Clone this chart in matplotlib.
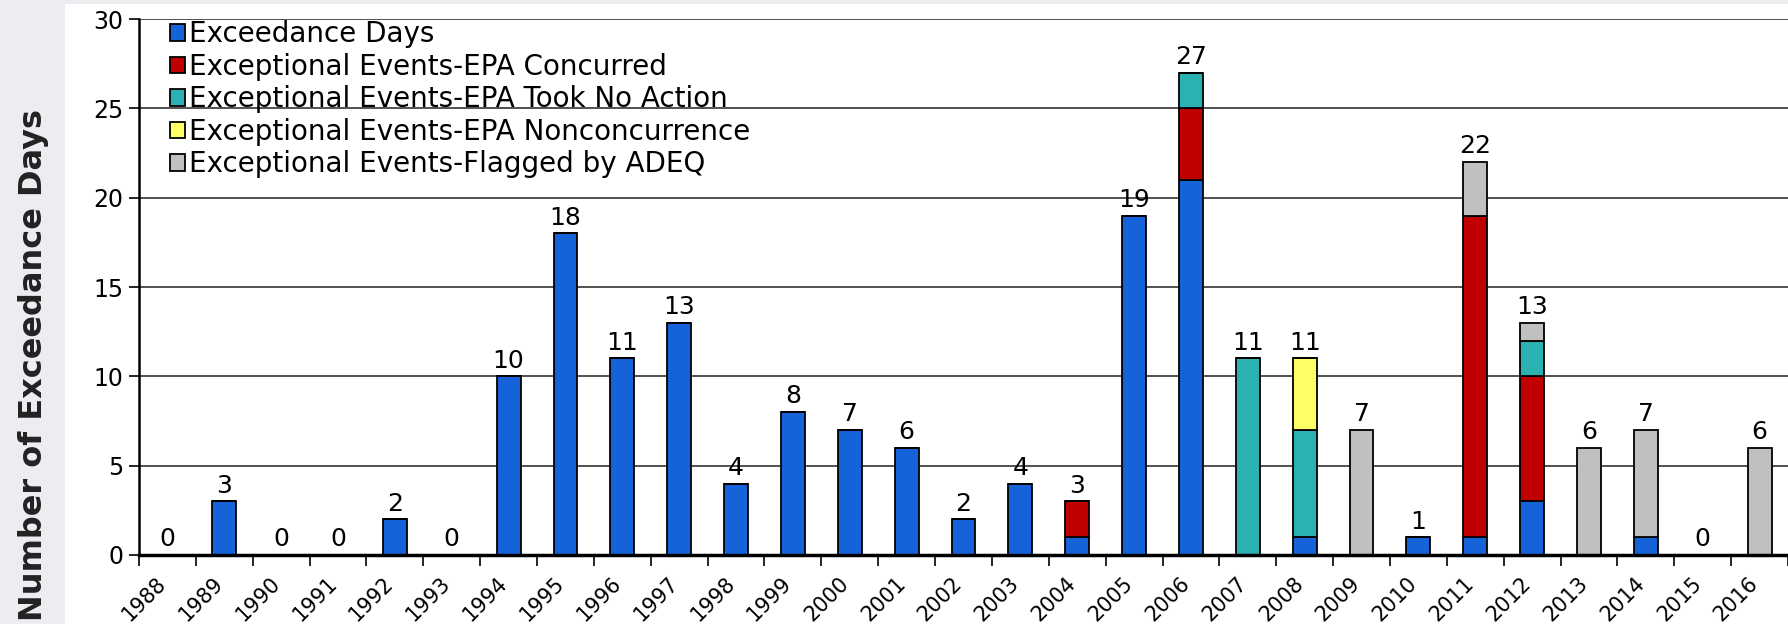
import numpy as np
import matplotlib
matplotlib.use("Agg")
from matplotlib import pyplot as plt
from matplotlib.patches import Rectangle

# data
years = list(range(1988, 2017))
exceedance = [0, 3, 0, 0, 2, 0, 10, 18, 11, 13, 4, 8, 7, 6, 2, 4, 1, 19, 21, 0, 1, 0, 1, 1, 3, 0, 1, 0, 0]
concurred = [0, 0, 0, 0, 0, 0, 0, 0, 0, 0, 0, 0, 0, 0, 0, 0, 2, 0, 4, 0, 0, 0, 0, 18, 7, 0, 0, 0, 0]
no_action = [0, 0, 0, 0, 0, 0, 0, 0, 0, 0, 0, 0, 0, 0, 0, 0, 0, 0, 2, 11, 6, 0, 0, 0, 2, 0, 0, 0, 0]
nonconcur = [0, 0, 0, 0, 0, 0, 0, 0, 0, 0, 0, 0, 0, 0, 0, 0, 0, 0, 0, 0, 4, 0, 0, 0, 0, 0, 0, 0, 0]
flagged = [0, 0, 0, 0, 0, 0, 0, 0, 0, 0, 0, 0, 0, 0, 0, 0, 0, 0, 0, 0, 0, 7, 0, 3, 1, 6, 6, 0, 6]

series = [
    ("Exceedance Days", exceedance, "#1663D9"),
    ("Exceptional Events-EPA Concurred", concurred, "#C00000"),
    ("Exceptional Events-EPA Took No Action", no_action, "#2BB1B1"),
    ("Exceptional Events-EPA Nonconcurrence", nonconcur, "#FFFF66"),
    ("Exceptional Events-Flagged by ADEQ", flagged, "#C0C0C0"),
]

fig = plt.figure(figsize=(17.88, 6.24), dpi=100)
fig.patch.set_facecolor("#EDEDF1")
# white slide area behind the chart
fig.patches.append(Rectangle((65 / 1788, 0), 1, 1 - 4 / 624, transform=fig.transFigure,
                             facecolor="white", edgecolor="none", zorder=-5))

ax = fig.add_axes([139 / 1788, 69 / 624, 1 - 139 / 1788, (555 - 19) / 624])
ax.set_facecolor("none")

x = np.arange(len(years))
bottom = np.zeros(len(years))
for name, vals, col in series:
    vals = np.array(vals, dtype=float)
    ax.bar(x, vals, 0.42, bottom=bottom, color=col, edgecolor="black",
           linewidth=1.3, label=name, zorder=3)
    bottom += vals

# totals above bars
for xi, tot in zip(x, bottom):
    ax.text(xi, tot + 0.2, f"{int(tot)}", ha="center", va="bottom",
            fontsize=18, zorder=4)

ax.set_xlim(-0.5, len(years) - 0.5)
ax.set_ylim(0, 30)
ax.set_yticks(range(0, 31, 5))
ax.yaxis.grid(True, color="#333333", linewidth=1.2, zorder=0)
ax.tick_params(axis="y", labelsize=17, length=7, width=1.2, pad=4)

# labels sit a little left of the bar centre, as in Excel
ax.set_xticks(x - 0.2)
ax.set_xticklabels(years, rotation=45, ha="right", rotation_mode="anchor", fontsize=15)
ax.set_xticks(np.arange(-0.5, len(years), 1), minor=True)
ax.tick_params(axis="x", which="major", length=0, pad=13)
ax.tick_params(axis="x", which="minor", length=8, width=1.2)

for s in ["top", "right"]:
    ax.spines[s].set_visible(False)
ax.spines["left"].set_linewidth(1.8)
ax.spines["bottom"].set_linewidth(2.5)
ax.spines["bottom"].set_zorder(5)

leg = ax.legend(loc="upper left", bbox_to_anchor=(0.012, 1.018), frameon=False,
                fontsize=20, handlelength=0.55, handleheight=0.55,
                handletextpad=0.15, labelspacing=0.16, borderaxespad=0)

fig.text(34 / 1788, 0.415, "Number of Exceedance Days", rotation=90,
         ha="center", va="center", fontsize=23, fontweight="bold", color="#222222")

fig.savefig("out.png", dpi=100, facecolor=fig.get_facecolor())
